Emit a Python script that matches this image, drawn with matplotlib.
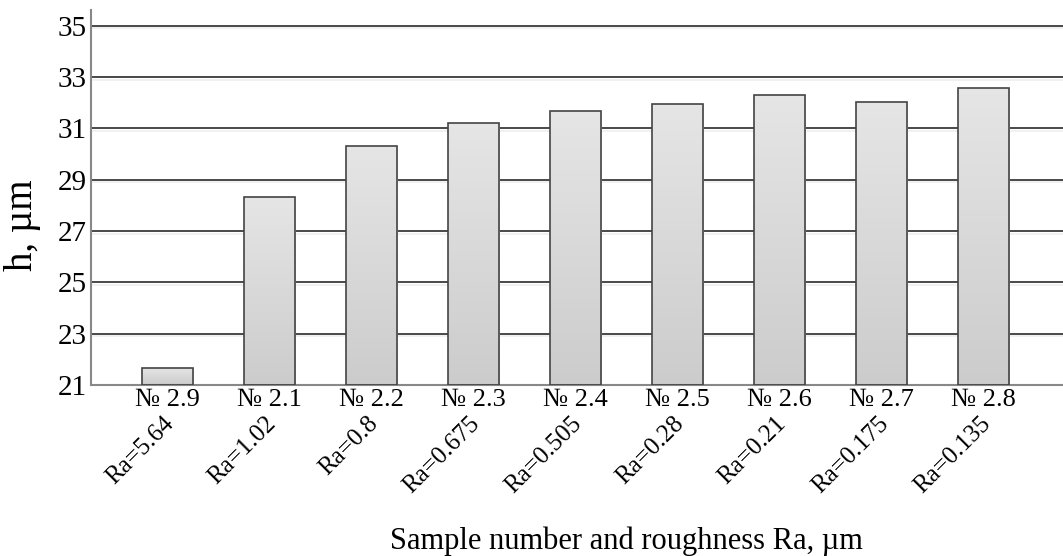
import numpy as np
import matplotlib.pyplot as plt

plt.rcParams['font.family'] = ['Liberation Serif', 'DejaVu Serif']

samples = ['№ 2.9', '№ 2.1', '№ 2.2', '№ 2.3', '№ 2.4', '№ 2.5', '№ 2.6', '№ 2.7', '№ 2.8']
ra = ['Ra=5.64', 'Ra=1.02', 'Ra=0.8', 'Ra=0.675', 'Ra=0.505', 'Ra=0.28', 'Ra=0.21', 'Ra=0.175', 'Ra=0.135']
h = [21.67, 28.33, 30.32, 31.22, 31.69, 31.96, 32.31, 32.04, 32.58]

fig = plt.figure(figsize=(10.63, 5.56), dpi=100)
ax = fig.add_axes([0.0856, 0.3076, 0.9144, 0.6744])

x = np.arange(len(samples))

# horizontal grid
for y in range(23, 36, 2):
    ax.axhline(y, color='#3a3a3a', linewidth=1.3, zorder=1)
    ax.axhline(y - 0.1, color='#f0f0f0', linewidth=1.3, zorder=0.9)

bars = ax.bar(x, np.array(h) - 21, bottom=21, width=0.5, facecolor='none',
              edgecolor='#444444', linewidth=1.2, zorder=3)

# vertical gradient inside each bar: light at top, darker at bottom
shade = np.linspace(0.90, 0.80, 256)
grad = np.dstack([shade, shade, shade]).reshape(-1, 1, 3)
for b in bars:
    x0, y0 = b.get_x(), b.get_y()
    im = ax.imshow(grad, aspect='auto', origin='upper', zorder=2,
                   extent=[x0, x0 + b.get_width(), y0, y0 + b.get_height()])
    im.set_clip_path(b)

ax.set_ylim(21, 35.62)
ax.set_xlim(-0.745, 8.78)

ax.set_yticks(range(21, 36, 2))
ax.set_xticks(x)
ax.set_xticklabels(samples, fontsize=19)
ax.tick_params(axis='y', labelsize=21)
ax.tick_params(axis='both', length=0, pad=3)

for i, lab in enumerate(ra):
    ax.annotate(lab, xy=(x[i], 0), xycoords=('data', 'axes fraction'),
                xytext=(-3, -20), textcoords='offset points',
                rotation=45, rotation_mode='anchor', ha='right', va='top',
                fontsize=18)

for s in ['top', 'right']:
    ax.spines[s].set_visible(False)
ax.spines['left'].set_color('#888888')
ax.spines['bottom'].set_color('#888888')
ax.spines['left'].set_linewidth(1.5)
ax.spines['bottom'].set_linewidth(1.5)

ax.set_ylabel('h, µm', fontsize=28, va='center')
ax.yaxis.set_label_coords(-0.070, 0.427)
fig.text(0.589, 0.027, 'Sample number and roughness Ra, µm', ha='center', va='center', fontsize=22)

fig.savefig('out.png', dpi=100)
